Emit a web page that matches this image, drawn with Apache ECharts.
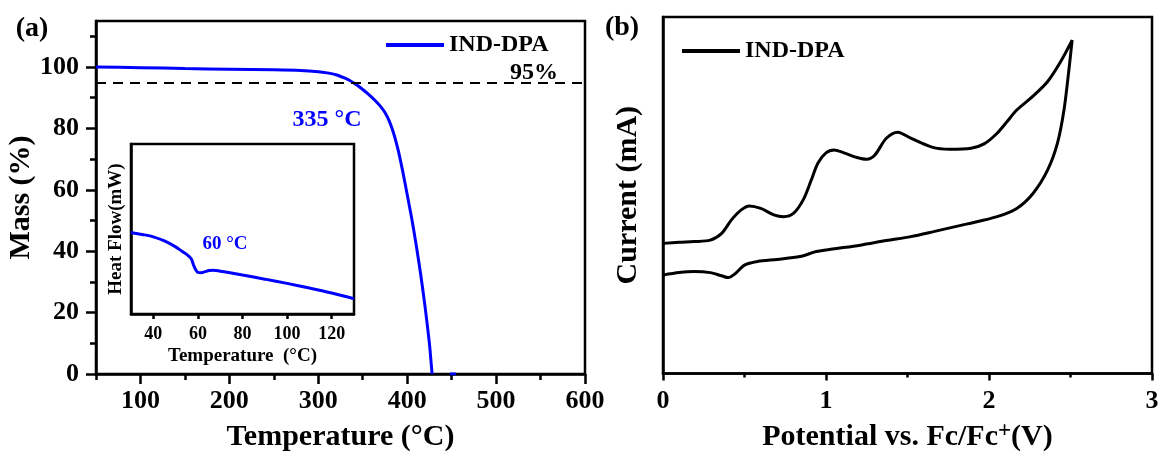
<!DOCTYPE html>
<html>
<head>
<meta charset="utf-8">
<script src="https://cdn.jsdelivr.net/npm/echarts@6/dist/echarts.min.js"></script>
<style>html,body{margin:0;padding:0;background:#fff}#c{width:1162px;height:457px}</style>
</head>
<body>
<div id="c"></div>
<script>
// ---- TGA (panel a) ----
const tgaT = [50, 100, 150, 200, 250, 280, 300, 310, 320, 330, 335, 340, 345, 350, 355, 360, 365, 370, 375, 380, 385, 390, 395, 400, 405, 410, 415, 420, 425, 428];
const tgaM = [100, 99.8, 99.5, 99.3, 99.1, 98.9, 98.5, 98.1, 97.5, 96.4, 95.7, 94.8, 93.8, 92.7, 91.5, 90.2, 88.8, 87.2, 85.2, 82.3, 78.2, 72.8, 66, 58.5, 50.8, 42.3, 32.8, 22.2, 10, 0];
const blipT = [448, 455];
const blipM = [0, 0];
const threshold = 95;
const tempMajor = [100, 200, 300, 400, 500, 600];
const tempMinor = [50, 150, 250, 350, 450, 550];
const massMajor = [0, 20, 40, 60, 80, 100];
const massMinor = [10, 30, 50, 70, 90, 110];
// ---- DSC inset ----
const dscT = [30, 35, 40, 45, 50, 53, 55.5, 57, 58, 59, 60, 61.5, 63, 65, 67, 70, 75, 80, 90, 100, 110, 120, 130];
const dscH = [48, 46.8, 45.4, 43, 39.5, 36.8, 34.5, 32.5, 29, 26, 24.5, 24.3, 24.8, 25.6, 25.8, 25.2, 24.1, 22.9, 20.5, 18, 15.3, 12.4, 9];
const insetTicks = [40, 60, 80, 100, 120];
// ---- CV (panel b) ----
const cvV = [0, 0.10, 0.19, 0.29, 0.36, 0.42, 0.48, 0.53, 0.60, 0.68, 0.74, 0.80, 0.86, 0.91, 0.95, 1.00, 1.05, 1.11, 1.19, 1.25, 1.30, 1.37, 1.44, 1.52, 1.65, 1.76, 1.89, 1.97, 2.05, 2.11, 2.17, 2.27, 2.36, 2.44, 2.51,
             2.49, 2.46, 2.42, 2.36, 2.27, 2.17, 2.05, 1.86, 1.66, 1.52, 1.37, 1.21, 1.04, 0.94, 0.84, 0.70, 0.58, 0.50, 0.44, 0.40, 0.36, 0.29, 0.19, 0.10, 0];
const cvI = [36.5, 36.8, 37.0, 37.4, 39.3, 43.1, 45.9, 47.0, 46.3, 44.5, 44.0, 44.9, 48.7, 54.3, 59.0, 61.9, 62.7, 61.9, 60.6, 60.1, 61.3, 66.0, 67.7, 66.0, 63.5, 62.9, 63.2, 64.4, 67.4, 70.6, 73.9, 77.8, 81.9, 87.5, 93.5,
             85.1, 73.9, 64.6, 57.1, 50.5, 46.3, 44.0, 41.9, 39.8, 38.4, 37.3, 36.0, 34.9, 34.2, 32.8, 32.0, 31.4, 30.4, 27.9, 26.9, 27.4, 28.3, 28.6, 28.3, 27.6];

const zip = (a, b) => a.map((v, i) => [v, b[i]]);
const FF = '"Liberation Serif","Times New Roman",serif';
const BLUE = '#0000ff';
const tickLbl = {fontFamily: FF, fontWeight: 'bold', color: '#000'};
const axisLine = {show: true, lineStyle: {color: '#000', width: 2.5}};
const tickStyle = {width: 2.5, color: '#000'};
const nameStyle = (s) => ({fontFamily: FF, fontWeight: 'bold', fontSize: s, color: '#000'});

const chart = echarts.init(document.getElementById('c'), null, {renderer: 'canvas'});
chart.setOption({
  animation: false,
  backgroundColor: '#fff',
  grid: [
    {left: 96, right: 577, top: 21, bottom: 79, show: true, borderColor: '#000', borderWidth: 2.5, backgroundColor: 'transparent'},
    {left: 131, top: 144, width: 223, height: 170, show: true, borderColor: '#000', borderWidth: 2.5, backgroundColor: '#fff'},
    {left: 663, right: 10, top: 17, bottom: 83.5, show: true, borderColor: '#000', borderWidth: 2.5, backgroundColor: 'transparent'}
  ],
  legend: [
    {left: 386, top: 33, padding: 0, icon: 'rect', itemWidth: 58, itemHeight: 4, data: ['TGA'],
     formatter: () => 'IND-DPA', textStyle: Object.assign({fontSize: 24}, tickLbl)},
    {left: 682, top: 39, padding: 0, icon: 'rect', itemWidth: 58, itemHeight: 4, data: ['CV'],
     formatter: () => 'IND-DPA', textStyle: Object.assign({fontSize: 24}, tickLbl)}
  ],
  xAxis: [
    {gridIndex: 0, type: 'value', min: 50, max: 600, position: 'bottom',
     axisLine: axisLine, splitLine: {show: false},
     axisTick: {customValues: tempMajor, length: 10, lineStyle: tickStyle},
     axisLabel: Object.assign({customValues: tempMajor, fontSize: 26, margin: 14}, tickLbl),
     name: 'Temperature (°C)', nameLocation: 'middle', nameGap: 48, nameTextStyle: nameStyle(30)},
    {gridIndex: 0, type: 'value', min: 50, max: 600, position: 'bottom',
     axisLine: {show: false}, splitLine: {show: false},
     axisTick: {customValues: tempMinor, length: 6, lineStyle: tickStyle},
     axisLabel: {show: false}},
    {gridIndex: 1, type: 'value', min: 30, max: 130,
     axisLine: axisLine, splitLine: {show: false},
     axisTick: {customValues: insetTicks, length: 5, lineStyle: tickStyle},
     axisLabel: Object.assign({customValues: insetTicks, fontSize: 18, margin: 11}, tickLbl),
     name: 'Temperature  (°C)', nameLocation: 'middle', nameGap: 33, nameTextStyle: nameStyle(19)},
    {gridIndex: 2, type: 'value', min: 0, max: 3, interval: 1,
     axisLine: axisLine, splitLine: {show: false},
     axisTick: {length: 7, lineStyle: tickStyle},
     minorTick: {show: true, splitNumber: 2, length: 4, lineStyle: tickStyle},
     axisLabel: Object.assign({fontSize: 26, margin: 15}, tickLbl),
     name: 'Potential vs. Fc/Fc{sup|+}(V)', nameLocation: 'middle', nameGap: 46,
     nameTextStyle: Object.assign(nameStyle(30), {
       rich: {sup: {fontFamily: FF, fontWeight: 'bold', fontSize: 23, color: '#000', verticalAlign: 'top', padding: [0, 0, 12, 0]}}})}
  ],
  yAxis: [
    {gridIndex: 0, type: 'value', min: 0, max: 115, position: 'left',
     axisLine: axisLine, splitLine: {show: false},
     axisTick: {customValues: massMajor, length: 10, lineStyle: tickStyle},
     axisLabel: Object.assign({customValues: massMajor, fontSize: 26, margin: 17}, tickLbl),
     name: 'Mass (%)', nameLocation: 'middle', nameGap: 54, nameTextStyle: nameStyle(30)},
    {gridIndex: 0, type: 'value', min: 0, max: 115, position: 'left',
     axisLine: {show: false}, splitLine: {show: false},
     axisTick: {customValues: massMinor, length: 6, lineStyle: tickStyle},
     axisLabel: {show: false}},
    {gridIndex: 1, type: 'value', min: 0, max: 100,
     axisLine: axisLine, splitLine: {show: false}, axisTick: {show: false}, axisLabel: {show: false},
     name: 'Heat Flow(mW)', nameLocation: 'middle', nameGap: 5, nameTextStyle: nameStyle(19)},
    {gridIndex: 2, type: 'value', min: 0, max: 100,
     axisLine: axisLine, splitLine: {show: false}, axisTick: {show: false}, axisLabel: {show: false},
     name: 'Current (mA)', nameLocation: 'middle', nameGap: 20, nameTextStyle: nameStyle(30)}
  ],
  series: [
    {name: 'TGA', type: 'line', xAxisIndex: 0, yAxisIndex: 0, data: zip(tgaT, tgaM),
     showSymbol: false, smooth: 0.2, color: BLUE, lineStyle: {width: 3, color: BLUE},
     markLine: {silent: true, symbol: 'none', label: {show: false},
       lineStyle: {type: [10, 7], color: '#000', width: 2}, data: [{yAxis: threshold}]}},
    {name: 'blip', type: 'line', xAxisIndex: 0, yAxisIndex: 0, data: zip(blipT, blipM),
     showSymbol: false, color: BLUE, lineStyle: {width: 3, color: BLUE}},
    {name: 'DSC', type: 'line', xAxisIndex: 2, yAxisIndex: 2, data: zip(dscT, dscH),
     showSymbol: false, smooth: 0.3, color: BLUE, lineStyle: {width: 3, color: BLUE}},
    {name: 'CV', type: 'line', xAxisIndex: 3, yAxisIndex: 3, data: zip(cvV, cvI),
     showSymbol: false, smooth: 0.3, color: '#000', lineStyle: {width: 3, color: '#000'}}
  ],
  graphic: [
    {type: 'text', x: 32, y: 29, style: {text: '(a)', font: 'bold 28px ' + FF, fill: '#000', textAlign: 'center', textVerticalAlign: 'middle'}},
    {type: 'text', x: 622, y: 28, style: {text: '(b)', font: 'bold 28px ' + FF, fill: '#000', textAlign: 'center', textVerticalAlign: 'middle'}},
    {type: 'text', x: 534, y: 73, style: {text: '95%', font: 'bold 24px ' + FF, fill: '#000', textAlign: 'center', textVerticalAlign: 'middle'}},
    {type: 'text', x: 327, y: 120, style: {text: '335 °C', font: 'bold 24px ' + FF, fill: BLUE, textAlign: 'center', textVerticalAlign: 'middle'}},
    {type: 'text', x: 225, y: 244, style: {text: '60 °C', font: 'bold 19px ' + FF, fill: BLUE, textAlign: 'center', textVerticalAlign: 'middle'}}
  ]
});
</script>
</body>
</html>
